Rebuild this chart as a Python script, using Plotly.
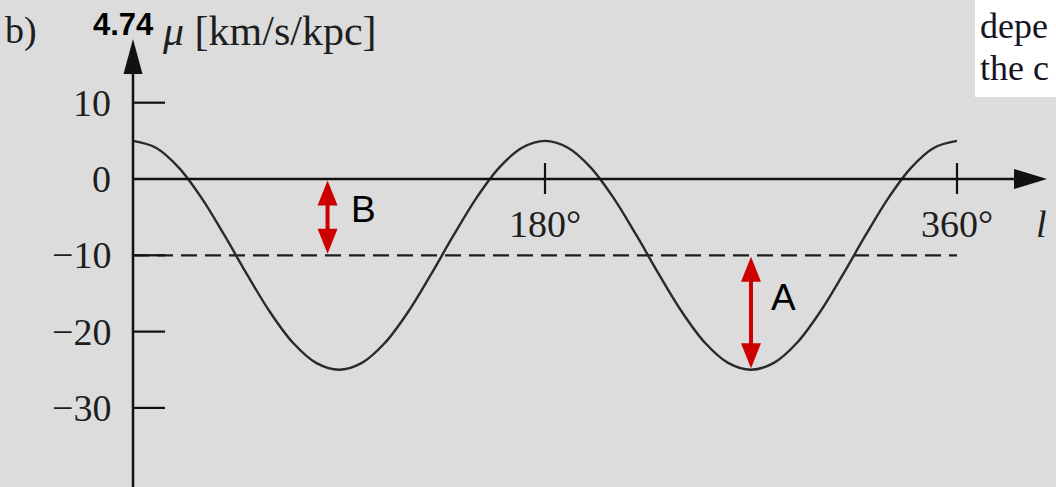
import plotly.graph_objects as go

# Galactic longitude (deg) and reduced proper motion 4.74*mu (km/s/kpc)
longitude = [0, 10, 20, 30, 40, 50, 60, 70, 80, 90, 100, 110, 120, 130, 140, 150, 160, 170, 180,
             190, 200, 210, 220, 230, 240, 250, 260, 270, 280, 290, 300, 310, 320, 330, 340, 350, 360]
mu_474 = [5.0, 4.1, 1.5, -2.5, -7.4, -12.6, -17.5, -21.5, -24.1, -25.0, -24.1, -21.5, -17.5, -12.6, -7.4, -2.5, 1.5, 4.1, 5.0,
          4.1, 1.5, -2.5, -7.4, -12.6, -17.5, -21.5, -24.1, -25.0, -24.1, -21.5, -17.5, -12.6, -7.4, -2.5, 1.5, 4.1, 5.0]

# Mean level (Oort B) and the amplitude markers
mean_level = -10
b_marker = {"l": 85, "from": 0, "to": -10, "label": "B"}
a_marker = {"l": 270, "from": -10, "to": -25, "label": "A"}

y_ticks = [10, 0, -10, -20, -30]
y_tick_labels = ["10", "0", "\u221210", "\u221220", "\u221230"]
x_ticks = [180, 360]
x_tick_labels = ["180\u00b0", "360\u00b0"]

W, H = 1056, 487
X0_PX, Y0_PX = 133, 179          # pixel position of the origin
SX = (957 - 133) / 360.0         # pixels per degree
SY = 7.63                        # pixels per unit

def dx(px):
    return (px - X0_PX) / SX

def dy(py):
    return (Y0_PX - py) / SY

BG = "#dcdcdc"
AX = "#111111"
CURVE = "#2a2a2a"
RED = "#cc0000"
TXT = "#1e1e1e"
SERIF = "Liberation Serif, Times New Roman, serif"
SANS = "Liberation Sans, Arial, sans-serif"

fig = go.Figure()

# dashed mean line
fig.add_trace(go.Scatter(x=[longitude[0], longitude[-1]], y=[mean_level, mean_level], mode="lines",
                         line=dict(color="#1e1e1e", width=2.2, dash="16px,8px"), hoverinfo="skip"))
# sinusoidal proper-motion curve
fig.add_trace(go.Scatter(x=longitude, y=mu_474, mode="lines", line_shape="spline",
                         line=dict(color=CURVE, width=2.4), hoverinfo="skip"))

shapes = []
# y axis with arrow
shapes.append(dict(type="line", x0=0, x1=0, y0=dy(H + 5), y1=dy(60), line=dict(color=AX, width=2.5)))
tip, base, hw = dy(39), dy(74), 9.5 / SX
shapes.append(dict(type="path", path=f"M 0 {tip} L {-hw} {base} L {hw} {base} Z",
                   fillcolor=AX, line=dict(color=AX, width=0)))
# x axis with arrow
shapes.append(dict(type="line", x0=0, x1=dx(1025), y0=0, y1=0, line=dict(color=AX, width=2.5)))
tipx, basex, hh = dx(1047), dx(1014), 10 / SY
shapes.append(dict(type="path", path=f"M {tipx} 0 L {basex} {hh} L {basex} {-hh} Z",
                   fillcolor=AX, line=dict(color=AX, width=0)))
# y ticks
for v in y_ticks:
    if v != 0:
        shapes.append(dict(type="line", x0=0, x1=dx(165), y0=v, y1=v, line=dict(color=AX, width=2.2)))
# x ticks
for v in x_ticks:
    shapes.append(dict(type="line", x0=v, x1=v, y0=dy(163), y1=dy(194), line=dict(color=AX, width=2.2)))

# red double-headed arrows
def double_arrow(l, y_top, y_bot):
    head_len = 25 / SY
    half_w = 10 / SX
    top = y_top - 0.2
    bot = y_bot + 0.2
    out = [dict(type="line", x0=l, x1=l, y0=top - head_len * 0.8, y1=bot + head_len * 0.8,
                line=dict(color=RED, width=4))]
    out.append(dict(type="path", path=f"M {l} {top} L {l - half_w} {top - head_len} L {l + half_w} {top - head_len} Z",
                    fillcolor=RED, line=dict(color=RED, width=0)))
    out.append(dict(type="path", path=f"M {l} {bot} L {l - half_w} {bot + head_len} L {l + half_w} {bot + head_len} Z",
                    fillcolor=RED, line=dict(color=RED, width=0)))
    return out

shapes += double_arrow(b_marker["l"], b_marker["from"], b_marker["to"])
shapes += double_arrow(a_marker["l"], a_marker["from"], a_marker["to"])

# white text box at top right
shapes.append(dict(type="rect", x0=dx(975), x1=dx(1060), y0=dy(97), y1=dy(-5),
                   fillcolor="#ffffff", line=dict(width=0), layer="below"))

annotations = []
for v, t in zip(y_ticks, y_tick_labels):
    annotations.append(dict(x=dx(113), y=v, text=t, showarrow=False, xanchor="right", yanchor="middle",
                            font=dict(family=SERIF, size=38, color=TXT)))
for v, t in zip(x_ticks, x_tick_labels):
    annotations.append(dict(x=v, y=dy(224), text=t, showarrow=False, xanchor="center", yanchor="middle",
                            font=dict(family=SERIF, size=38, color=TXT)))
annotations.append(dict(x=dx(1041), y=dy(224), text="<i>l</i>", showarrow=False, xanchor="center",
                        yanchor="middle", font=dict(family=SERIF, size=38, color=TXT)))
annotations.append(dict(x=dx(3), y=dy(30), text="b)", showarrow=False, xanchor="left", yanchor="middle",
                        font=dict(family=SERIF, size=38, color=TXT)))
annotations.append(dict(x=dx(91), y=dy(24), text="<b>4.74</b>", showarrow=False, xanchor="left",
                        yanchor="middle", font=dict(family=SANS, size=31, color="#000000")))
annotations.append(dict(x=dx(160), y=dy(31), text="<i>\u03bc</i> [km/s/kpc]", showarrow=False, xanchor="left",
                        yanchor="middle", font=dict(family=SERIF, size=42, color=TXT)))
annotations.append(dict(x=dx(363), y=dy(209), text=b_marker["label"], showarrow=False,
                        xanchor="center", yanchor="middle", font=dict(family=SANS, size=37, color="#000000")))
annotations.append(dict(x=dx(783), y=dy(297), text=a_marker["label"], showarrow=False,
                        xanchor="center", yanchor="middle", font=dict(family=SANS, size=37, color="#000000")))
annotations.append(dict(x=dx(978), y=dy(26), text="depe", showarrow=False, xanchor="left", yanchor="middle",
                        font=dict(family=SERIF, size=36, color="#141424")))
annotations.append(dict(x=dx(978), y=dy(68), text="the c", showarrow=False, xanchor="left", yanchor="middle",
                        font=dict(family=SERIF, size=36, color="#141424")))

fig.update_layout(
    width=W, height=H, margin=dict(l=0, r=0, t=0, b=0),
    paper_bgcolor=BG, plot_bgcolor=BG, showlegend=False,
    xaxis=dict(range=[dx(0), dx(W)], visible=False, fixedrange=True),
    yaxis=dict(range=[dy(H), dy(0)], visible=False, fixedrange=True),
    shapes=shapes, annotations=annotations,
)

fig.write_html("out.html")
